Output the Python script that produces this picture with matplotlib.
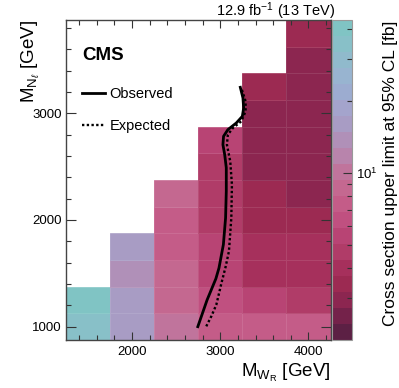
import numpy as np
import matplotlib
matplotlib.use("Agg")
import matplotlib.pyplot as plt
from matplotlib.colors import ListedColormap, LogNorm
from matplotlib.ticker import MultipleLocator, FixedLocator, NullFormatter

plt.rcParams["font.family"] = ["Liberation Sans", "DejaVu Sans"]
plt.rcParams["mathtext.fontset"] = "custom"
plt.rcParams["mathtext.rm"] = "Liberation Sans"
plt.rcParams["mathtext.it"] = "Liberation Sans:italic"
plt.rcParams["mathtext.bf"] = "Liberation Sans:bold"

# bin edges of the 2D limit histogram
mwr_edges = np.arange(1250, 4251, 500)
mn_edges = np.arange(875, 3876, 250)

# cross section limits [fb], one list per M_WR column, from M_N = 1000 upwards
lim_1500 = [34.5, 40.3]
lim_2000 = [16.0, 16.0, 13.2, 16.0]
lim_2500 = [10.1, 8.6, 8.6, 7.4, 7.4, 8.6]
lim_3000 = [7.4, 6.35, 5.44, 5.44, 4.67, 4.67, 4.67, 5.44]
lim_3500 = [7.4, 5.44, 4.0, 4.0, 3.43, 3.43, 2.94, 2.94, 2.94, 3.43]
lim_4000 = [7.4, 4.67, 4.0, 4.0, 3.43, 2.94, 2.94, 2.94, 2.94, 2.94, 2.94, 3.43]
columns = [lim_1500, lim_2000, lim_2500, lim_3000, lim_3500, lim_4000]

# exclusion contours (M_WR, M_N) in GeV
obs_mwr = [2745, 2850, 2900, 2950, 2985, 3035, 3060, 3068, 3068, 3050, 3030, 3037, 3086, 3182, 3250, 3265, 3257, 3227]
obs_mn = [1000, 1250, 1350, 1450, 1550, 1770, 2020, 2270, 2490, 2613, 2706, 2785, 2847, 2910, 2972, 3050, 3144, 3244]
exp_mwr = [2841, 2900, 2955, 3015, 3060, 3098, 3125, 3132, 3113, 3075, 3086, 3143, 3238, 3287, 3287, 3238]
exp_mn = [1003, 1100, 1206, 1415, 1560, 1706, 2019, 2331, 2550, 2706, 2800, 2863, 2925, 3019, 3113, 3238]

# palette, 20 bands from low to high limit
palette = ["#5c2044", "#74224a", "#8c2650", "#9c2a52", "#a6305c",
           "#b03c68", "#b84474", "#c05080", "#c45c88", "#c46890",
           "#c0749c", "#b884ac", "#b090b8", "#a89cc4", "#a4a4cc",
           "#9cacd0", "#98b4d0", "#90bacc", "#88c0c8", "#80c4c4"]
zmin, zmax = 2.0, 43.5

z = np.full((len(mn_edges) - 1, len(mwr_edges) - 1), np.nan)
for i, col in enumerate(columns):
    z[:len(col), i] = col
z = np.ma.masked_invalid(z)

fig = plt.figure(figsize=(3.99, 3.88), dpi=100)
ax = fig.add_axes([66 / 399, 48 / 388, 264.5 / 399, 320 / 388])
cax = fig.add_axes([332 / 399, 48 / 388, 20 / 399, 320 / 388])

mesh = ax.pcolormesh(mwr_edges, mn_edges, z, cmap=ListedColormap(palette),
                     norm=LogNorm(vmin=zmin, vmax=zmax),
                     edgecolors=(1, 1, 1, 0.1), linewidth=0.5)

ax.plot(obs_mwr, obs_mn, color="black", lw=2.0, label="Observed")
ax.plot(exp_mwr, exp_mn, color="black", lw=1.7, linestyle=(0, (1, 1)), label="Expected")

ax.set_xlim(1250, 4250)
ax.set_ylim(875, 3875)
ax.set_xticks([2000, 3000, 4000])
ax.set_yticks([1000, 2000, 3000])
ax.xaxis.set_minor_locator(MultipleLocator(200))
ax.yaxis.set_minor_locator(MultipleLocator(200))
ax.tick_params(which="both", direction="in", top=True, right=True,
               color="#333333", labelsize=9.5, width=0.8)
ax.tick_params(axis="x", which="major", length=5.5, pad=4)
ax.tick_params(axis="y", which="major", length=7.2, pad=3)
ax.tick_params(which="minor", length=3.8)
for s in ax.spines.values():
    s.set_color("#444444")
    s.set_linewidth(1.0)

ax.set_xlabel(r"M$_{\mathrm{W}_{\mathrm{R}}}$ [GeV]", fontsize=13.5, loc="right")
ax.xaxis.set_label_coords(1.0, -0.07)
ax.set_ylabel(r"M$_{\mathrm{N}_{\ell}}$ [GeV]", fontsize=13.5, loc="top")
ax.yaxis.set_label_coords(-0.09, 1.0)

ax.text(0.06, 0.89, "CMS", transform=ax.transAxes, fontsize=13.5,
        fontweight="bold", va="center", ha="left")
ax.legend(loc="upper left", bbox_to_anchor=(0.062, 0.79), frameon=False,
          fontsize=10.5, handlelength=1.55, handletextpad=0.3,
          labelspacing=1.25, borderpad=0, borderaxespad=0)

fig.text(335 / 399, 1 - 16 / 388, r"12.9 fb$^{-1}$ (13 TeV)", fontsize=10.5,
         ha="right", va="baseline")

cb = fig.colorbar(mesh, cax=cax)
cb.outline.set_edgecolor("#999999")
cb.outline.set_linewidth(0.8)
cax.yaxis.set_ticks_position("right")
cax.yaxis.set_major_locator(FixedLocator([10]))
cax.yaxis.set_minor_locator(FixedLocator([3, 4, 5, 6, 7, 8, 9, 20, 30, 40]))
cax.yaxis.set_minor_formatter(NullFormatter())
cax.set_yticklabels([r"10$^{1}$"])
cax.tick_params(which="both", direction="in", color="#333333", width=0.8,
                labelsize=9.5, pad=3)
cax.tick_params(which="major", length=6.3)
cax.tick_params(which="minor", length=3.8)
cb.set_label("Cross section upper limit at 95% CL [fb]", fontsize=12.5)
cax.yaxis.set_label_coords(2.55, 0.52)

fig.savefig("out.png", dpi=100)
